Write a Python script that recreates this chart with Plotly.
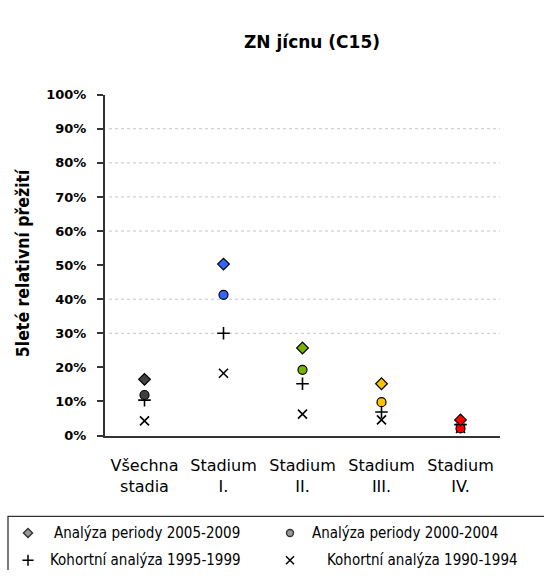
import plotly.graph_objects as go

W, H = 544, 578

# Categories (stages) and 5-year relative survival per analysis
categories = ["Všechna<br>stadia", "Stadium<br>I.", "Stadium<br>II.", "Stadium<br>III.", "Stadium<br>IV."]
period_2005_2009 = [0.165, 0.503, 0.257, 0.152, 0.046]
period_2000_2004 = [0.119, 0.413, 0.193, 0.098, 0.021]
cohort_1995_1999 = [0.104, 0.300, 0.152, 0.069, 0.032]
cohort_1990_1994 = [0.043, 0.183, 0.063, 0.046, 0.021]
stage_colors = ["#404040", "#3366ff", "#77b300", "#ffc000", "#ff0000"]

y_ticks = [i / 10 for i in range(11)]
y_tick_labels = [f"{int(v * 100)}%" for v in y_ticks]
grid_levels = [0.3, 0.4, 0.6, 0.7, 0.8, 0.9]

legend_labels = [
    "Analýza periody 2005-2009",
    "Analýza periody 2000-2004",
    "Kohortní analýza 1995-1999",
    "Kohortní analýza 1990-1994",
]

# plot area in pixels
PX0, PX1 = 105, 500
PY_TOP, PY_BOT = 90, 440

x_idx = list(range(len(categories)))

fig = go.Figure()

fig.add_trace(go.Scatter(
    x=x_idx, y=cohort_1990_1994, mode="markers",
    marker=dict(symbol="x-thin-open", size=9, color="black", line=dict(color="black", width=1.6)),
    showlegend=False, hoverinfo="y"))
fig.add_trace(go.Scatter(
    x=x_idx, y=cohort_1995_1999, mode="markers",
    marker=dict(symbol="cross-thin-open", size=9, color="black", line=dict(color="black", width=1.6)),
    showlegend=False, hoverinfo="y"))
fig.add_trace(go.Scatter(
    x=x_idx, y=period_2000_2004, mode="markers",
    marker=dict(symbol="circle", size=9, color=stage_colors, line=dict(color="black", width=1.2)),
    showlegend=False, hoverinfo="y"))
fig.add_trace(go.Scatter(
    x=x_idx, y=period_2005_2009, mode="markers",
    marker=dict(symbol="diamond", size=9, color=stage_colors, line=dict(color="black", width=1.2)),
    showlegend=False, hoverinfo="y"))

# legend keys on an overlay axis spanning the whole page (pixel units)
legend_pos = [(28, 540), (290, 540), (28, 568), (290, 568)]
legend_text_x = [52, 310, 48, 325]
legend_symbols = ["diamond", "circle", "cross-thin-open", "x-thin-open"]
for (lx, ly), sym in zip(legend_pos, legend_symbols):
    if "thin" in sym:
        mk = dict(symbol=sym, size=8, color="black", line=dict(color="black", width=1.5))
    else:
        mk = dict(symbol=sym, size=7, color="#9a9a9a", line=dict(color="#333333", width=1.4))
    fig.add_trace(go.Scatter(x=[lx], y=[ly], mode="markers", marker=mk,
                             xaxis="x2", yaxis="y2", showlegend=False, hoverinfo="skip"))

annotations = [
    dict(text="<b>ZN jícnu (C15)</b>", xref="paper", yref="paper",
         x=312 / W, y=1 - 36 / H, xanchor="center", yanchor="middle", showarrow=False,
         font=dict(family="DejaVu Sans", size=17, color="black")),
    dict(text="<b>5leté relativní přežití</b>", xref="paper", yref="paper",
         x=23 / W, y=1 - 263 / H, xanchor="center", yanchor="middle", textangle=-90,
         showarrow=False, font=dict(family="DejaVu Sans Condensed, DejaVu Sans", size=17.5, color="black")),
]
for (lx, ly), tx, lab in zip(legend_pos, legend_text_x, legend_labels):
    annotations.append(dict(text=lab, xref="x2", yref="y2", x=tx, y=ly,
                            xanchor="left", yanchor="middle", showarrow=False,
                            font=dict(family="DejaVu Sans Condensed, DejaVu Sans", size=15, color="black")))

shapes = []
for g in grid_levels:
    shapes.append(dict(type="line", xref="paper", yref="y", x0=(PX0 + 4) / W, x1=PX1 / W, y0=g, y1=g,
                       line=dict(color="#c4c4c4", width=1, dash="dot"), layer="below"))
# legend frame
shapes.append(dict(type="rect", xref="x2", yref="y2", x0=8, x1=560, y0=523, y1=600,
                   line=dict(color="#333333", width=1.3), fillcolor="rgba(0,0,0,0)"))

fig.update_layout(
    width=W, height=H,
    margin=dict(l=0, r=0, t=0, b=0),
    paper_bgcolor="white", plot_bgcolor="rgba(0,0,0,0)",
    showlegend=False,
    xaxis=dict(
        domain=[PX0 / W, PX1 / W], range=[-0.5, len(categories) - 0.5],
        tickvals=x_idx, ticktext=categories, ticks="", showgrid=False, zeroline=False,
        showline=True, linecolor="#333333", linewidth=2,
        tickfont=dict(family="DejaVu Sans", size=16, color="black"),
        ticklabelstandoff=14,
    ),
    yaxis=dict(
        domain=[1 - PY_BOT / H, 1 - PY_TOP / H], range=[0, 1],
        tickvals=y_ticks, ticktext=y_tick_labels, ticks="outside", ticklen=6,
        tickcolor="#333333", tickwidth=1.5, showgrid=False, zeroline=False,
        showline=True, linecolor="#333333", linewidth=2,
        tickfont=dict(family="DejaVu Sans", size=13, color="black", weight="bold"),
        ticklabelstandoff=8,
    ),
    xaxis2=dict(domain=[0, 1], range=[0, W], visible=False, fixedrange=True, anchor="y2"),
    yaxis2=dict(domain=[0, 1], range=[H, 0], visible=False, fixedrange=True, anchor="x2"),
    annotations=annotations,
    shapes=shapes,
)

fig.write_html("out.html")
